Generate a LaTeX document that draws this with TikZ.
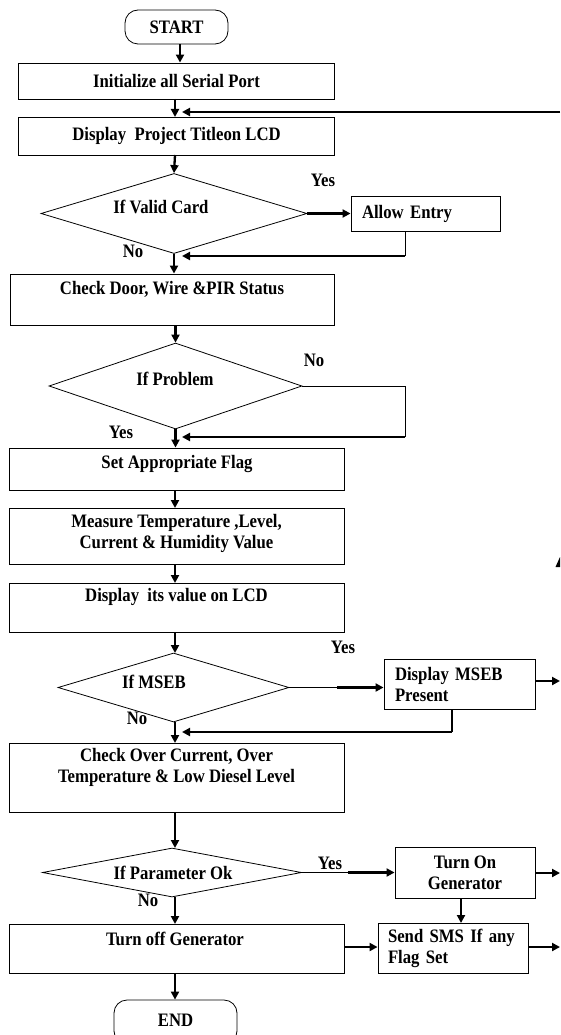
\documentclass[tikz,border=0pt]{standalone}
\usepackage{fontspec}
\setmainfont{Liberation Serif}[FakeStretch=0.88]
\usetikzlibrary{arrows.meta,shapes.geometric}
\begin{document}
\begin{tikzpicture}[x=1pt,y=-1pt,
  font=\bfseries\fontsize{19}{21}\selectfont,
  box/.style={draw, line width=0.9pt, inner sep=0pt, align=center},
  lbox/.style={draw, line width=0.9pt, inner ysep=0pt, inner xsep=#1, align=left},
  dec/.style={draw, diamond, line width=0.8pt, inner sep=0pt},
  term/.style={draw, rounded corners=13pt, line width=0.8pt, inner sep=0pt},
  flow/.style={line width=2.3pt, -{Triangle[length=8pt,width=8pt]}},
  wire/.style={line width=0.9pt},
  mid/.style={line width=1.3pt},
  lbl/.style={inner sep=0pt},
]
\useasboundingbox (0,0) rectangle (560,1035);
\clip (0,0) rectangle (560,1035);

% terminals
\node[term, minimum width=103pt, minimum height=34pt] (start) at (176.5,27) {START};
\node[term, minimum width=123pt, minimum height=44pt] (end) at (175.5,1022) {\raisebox{4pt}{END}};

% process boxes
\node[box, minimum width=316pt, minimum height=36pt] (init) at (176.5,81) {Initialize all Serial Port};
\node[box, minimum width=316pt, minimum height=38pt] (title) at (176.5,136)
  {\raisebox{3pt}{Display\ \ Project Titleon LCD}};
\node[box, minimum width=324pt, minimum height=51pt] (door) at (172,299.5) {};
\node[lbl] (doort) at (172,289) {Check Door, Wire \&PIR Status};
\node[box, minimum width=335pt, minimum height=42pt] (flag) at (176.5,469) {};
\node[lbl] (flagt) at (177,464) {Set Appropriate Flag};
\node[box, minimum width=335pt, minimum height=56pt] (meas) at (176.5,536) {};
\node[lbl, align=center] (meast) at (176.5,533.5) {Measure Temperature ,Level,\\Current \& Humidity Value};
\node[box, minimum width=335pt, minimum height=49pt] (dval) at (176.5,607.5) {};
\node[lbl] (dvalt) at (176.5,597) {Display\ \ its value on LCD};
\node[box, minimum width=335pt, minimum height=69pt] (over) at (176.5,777.5) {};
\node[lbl, align=center] (overt) at (176.5,767.5) {Check Over Current, Over\\Temperature \& Low Diesel Level};
\node[box, minimum width=335pt, minimum height=49pt] (off) at (176.5,948.5) {};
\node[lbl] (offt) at (175,939) {Turn off Generator};

% side boxes
\node[lbox=11pt, text width=127pt, minimum height=35pt] (allow) at (425.5,213.5) {\raisebox{3pt}{Allow Entry}};
\node[lbox=11pt, text width=129pt, minimum height=50pt] (mseb) at (459.5,684) {Display MSEB\\Present};
\node[box, minimum width=140pt, minimum height=51pt] (on) at (465,872.5) {Turn On\\Generator};
\node[lbox=10pt, text width=130pt, minimum height=50pt] (sms) at (453,948) {Send SMS If any\\Flag Set};

% decisions
\node[dec, minimum width=266pt, minimum height=80pt] (valid) at (174,213.5) {};
\node[lbl] (validt) at (161,207) {If Valid Card};
\node[dec, minimum width=253pt, minimum height=86pt] (prob) at (175.5,386) {};
\node[lbl] (probt) at (175,379) {If Problem};
\node[dec, minimum width=231pt, minimum height=69pt] (msebd) at (173.5,687.5) {};
\node[lbl] (msebdt) at (154,682) {If MSEB};
\node[dec, minimum width=259pt, minimum height=49pt] (param) at (172,872.5) {};
\node[lbl] (paramt) at (173,873) {If Parameter Ok};

% branch labels
\node[lbl] (y1) at (323,180) {Yes};
\node[lbl] (n1) at (133,251) {No};
\node[lbl] (n2) at (314,360) {No};
\node[lbl] (y2) at (121,432) {Yes};
\node[lbl] (y3) at (343,647) {Yes};
\node[lbl] (n3) at (137,718) {No};
\node[lbl] (y4) at (330,863) {Yes};
\node[lbl] (n4) at (148,900) {No};

% helper coordinates
\coordinate (fbin) at (560,112);
\coordinate (fbend) at (182,112);
\coordinate (r1) at (405,256);
\coordinate (r1e) at (182,256);
\coordinate (p1) at (405,386);
\coordinate (p2) at (405,437);
\coordinate (p2e) at (182,437);
\coordinate (m1) at (337,687.5);
\coordinate (m2) at (452,732);
\coordinate (m2e) at (182,732);
\coordinate (o1) at (560,681);
\coordinate (q1) at (348,872.5);
\coordinate (o2) at (560,873);
\coordinate (o3) at (560,947);

% main flow
\draw[flow] ([xshift=3.5pt]start.south) -- ([xshift=3.5pt]start.south |- init.north);
\draw[flow] (175,99) -- (175,117);
\draw[flow] (fbin) -- (fbend);
\draw[flow] (175,155) -- (valid.north);
\draw[flow] (valid.south) -- (valid.south |- door.north);
\draw[flow] (door.south -| prob.north) -- (prob.north);
\draw[flow] (prob.south) -- (prob.south |- flag.north);
\draw[flow] (flag.south -| 175,0) -- (175,508);
\draw[flow] (meas.south -| 175,0) -- (175,583);
\draw[flow] (dval.south -| 175,0) -- (175,653);
\draw[flow] (msebd.south -| 175,0) -- (175,743);
\draw[flow] (over.south -| 175,0) -- (175,848);
\draw[flow] (175,897) -- (175,924);
\draw[flow] (175,973) -- (end.north -| 175,0);

% valid card branch
\draw[flow] (valid.east) -- (allow.west);
\draw[wire] (allow.south -| r1) -- (r1);
\draw[flow] (r1) -- (r1e);

% problem branch
\draw[wire] (prob.east) -- (p1) -- (p2);
\draw[flow] (p2) -- (p2e);

% MSEB branch
\draw[wire] (msebd.east) -- (m1);
\draw[flow] (m1) -- (m1 -| mseb.west);
\draw[flow] (o1 -| mseb.east) -- (o1);
\draw[mid] (mseb.south -| m2) -- (m2);
\draw[flow] (m2) -- (m2e);

% parameter branch
\draw[wire] (param.east) -- (q1);
\draw[flow] (q1) -- (on.west);
\draw[flow] (o2 -| on.east) -- (o2);
\draw[flow] (on.south -| 461,0) -- (461,923);
\draw[flow] (off.east |- o3) -- (sms.west |- o3);
\draw[flow] (sms.east |- o3) -- (o3);

% fragment at right edge
\fill (555.5,567) -- (560,557) -- (560,567) -- cycle;
\end{tikzpicture}
\end{document}
